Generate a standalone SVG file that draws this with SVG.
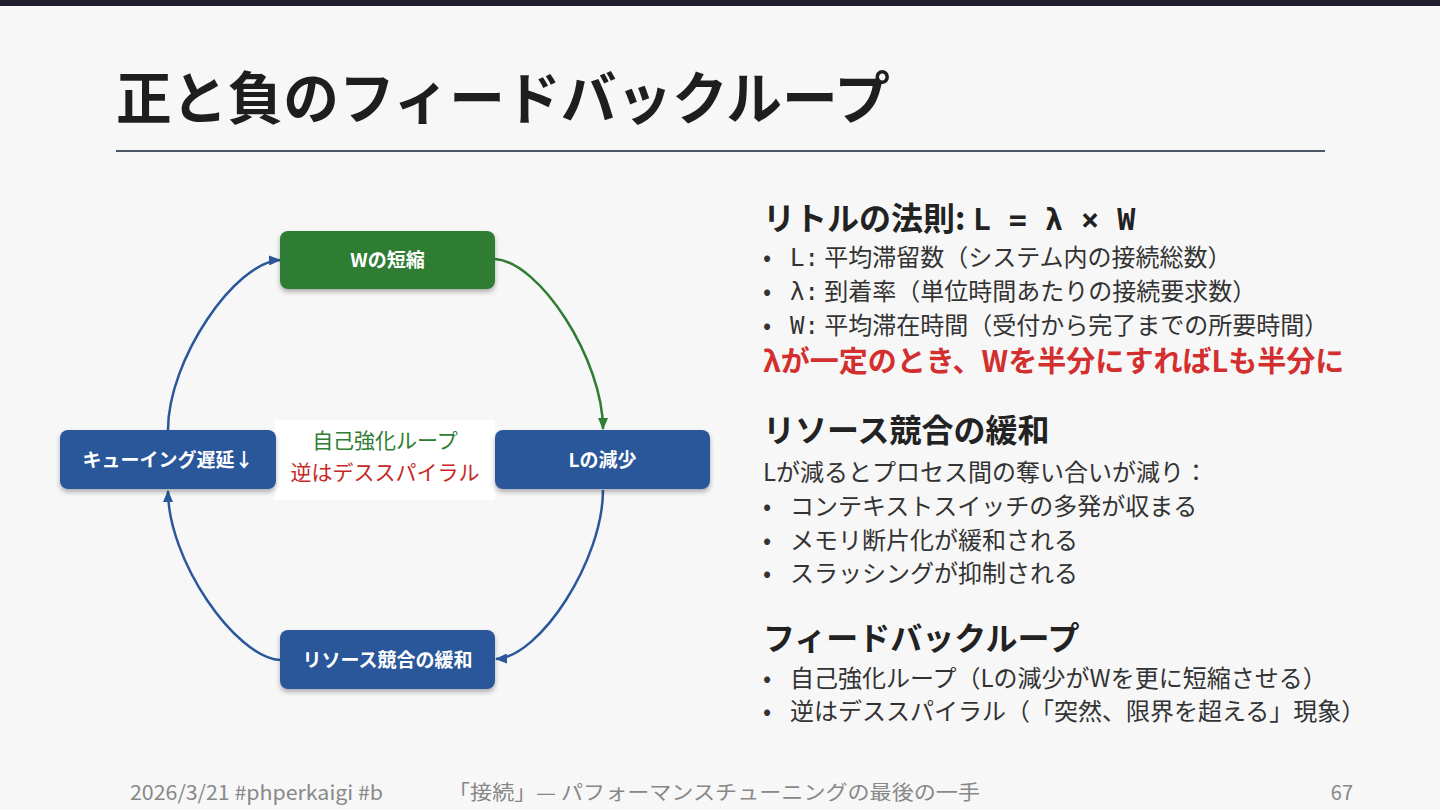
<svg xmlns="http://www.w3.org/2000/svg" width="1440" height="810" viewBox="0 0 1440 810">
<style>
.jp{font-family:"Noto Sans CJK JP","Noto Sans",sans-serif;text-spacing-trim:space-all}
.mono{font-family:"DejaVu Sans Mono","Liberation Mono",monospace}
.title{font-size:57px;font-weight:700;fill:#1e1e1e}
.h2{font-size:32px;font-weight:700;fill:#222}
.body{font-size:24px;fill:#333}
.nodetext{font-size:19px;font-weight:700;fill:#fff;text-anchor:middle}
.foot{font-size:20px;fill:#888}
.blue{fill:#2b579a}
.green{fill:#2e7d32}
.cb{fill:none;stroke:#2b579a;stroke-width:2.5}
.cg{fill:none;stroke:#2e7d32;stroke-width:2.5}
</style>
<defs>
<filter id="sh" x="-10%" y="-20%" width="120%" height="150%">
<feDropShadow dx="0" dy="3" stdDeviation="2.5" flood-color="#000" flood-opacity="0.3"/>
</filter>
<marker id="ab" viewBox="0 0 12 10" refX="11" refY="5" markerWidth="12" markerHeight="10" markerUnits="userSpaceOnUse" orient="auto">
<path d="M0,0 L12,5 L0,10 Z" fill="#2b579a"/>
</marker>
<marker id="ag" viewBox="0 0 12 10" refX="11" refY="5" markerWidth="12" markerHeight="10" markerUnits="userSpaceOnUse" orient="auto">
<path d="M0,0 L12,5 L0,10 Z" fill="#2e7d32"/>
</marker>
</defs>
<rect x="0" y="0" width="1440" height="810" fill="#f7f7f7"/>
<rect x="0" y="0" width="1440" height="6" fill="#1e1e2e"/>
<text class="jp title" x="116" y="119" textLength="774" lengthAdjust="spacingAndGlyphs">正と負のフィードバックループ</text>
<rect x="116" y="150" width="1209" height="2" fill="#4a5568"/>

<g id="connectors">
<path class="cg" d="M495,259 C540,262 603,360 603,429" marker-end="url(#ag)"/>
<path class="cb" d="M603,490 C603,560 540,657 496,659" marker-end="url(#ab)"/>
<path class="cb" d="M280,660 C235,657 168,560 168,491" marker-end="url(#ab)"/>
<path class="cb" d="M168,430 C168,360 235,262 280,260" marker-end="url(#ab)"/>
</g>

<g id="center-label">
<rect x="275" y="420" width="220" height="80" fill="#ffffff"/>
<text class="jp" x="385" y="448" font-size="21" fill="#2e7d32" text-anchor="middle">自己強化ループ</text>
<text class="jp" x="385" y="480" font-size="21" fill="#c62828" text-anchor="middle">逆はデススパイラル</text>
</g>

<g id="node-w">
<rect class="green" x="280" y="231" width="215" height="58" rx="8" filter="url(#sh)"/>
<text class="jp nodetext" x="387.5" y="267">Wの短縮</text>
</g>
<g id="node-l">
<rect class="blue" x="495" y="430" width="215" height="59" rx="8" filter="url(#sh)"/>
<text class="jp nodetext" x="602.5" y="467">Lの減少</text>
</g>
<g id="node-resource">
<rect class="blue" x="280" y="630" width="215" height="59" rx="8" filter="url(#sh)"/>
<text class="jp nodetext" x="387.5" y="667">リソース競合の緩和</text>
</g>
<g id="node-queue">
<rect class="blue" x="60" y="430" width="216" height="59" rx="8" filter="url(#sh)"/>
<text class="jp nodetext" x="168" y="467">キューイング遅延↓</text>
</g>

<g id="right-text">
<text class="jp h2" x="763" y="230">リトルの法則: <tspan class="mono" font-size="30">L = λ × W</tspan></text>
<text class="jp body" x="763" y="266">•</text>
<text class="jp body" x="790" y="266"><tspan class="mono">L:</tspan> 平均滞留数（システム内の接続総数）</text>
<text class="jp body" x="763" y="300">•</text>
<text class="jp body" x="790" y="300"><tspan class="mono">λ:</tspan> 到着率（単位時間あたりの接続要求数）</text>
<text class="jp body" x="763" y="334">•</text>
<text class="jp body" x="790" y="334"><tspan class="mono">W:</tspan> 平均滞在時間（受付から完了までの所要時間）</text>
<text class="jp" x="763" y="372" font-size="29" font-weight="700" fill="#d32f2f">λが一定のとき、Wを半分にすればLも半分に</text>

<text class="jp h2" x="763" y="442">リソース競合の緩和</text>
<text class="jp body" x="763" y="481">Lが減るとプロセス間の奪い合いが減り：</text>
<text class="jp body" x="763" y="515">•</text>
<text class="jp body" x="790" y="515">コンテキストスイッチの多発が収まる</text>
<text class="jp body" x="763" y="549">•</text>
<text class="jp body" x="790" y="549">メモリ断片化が緩和される</text>
<text class="jp body" x="763" y="582">•</text>
<text class="jp body" x="790" y="582">スラッシングが抑制される</text>

<text class="jp h2" x="763" y="650">フィードバックループ</text>
<text class="jp body" x="763" y="687">•</text>
<text class="jp body" x="790" y="687">自己強化ループ（Lの減少がWを更に短縮させる）</text>
<text class="jp body" x="763" y="720">•</text>
<text class="jp body" x="790" y="720">逆はデススパイラル（「突然、限界を超える」現象）</text>
</g>

<g id="footer">
<text class="jp foot" x="130" y="800" textLength="253" lengthAdjust="spacingAndGlyphs">2026/3/21 #phperkaigi #b</text>
<text class="jp foot" x="448" y="800" textLength="532" lengthAdjust="spacingAndGlyphs">「接続」— パフォーマンスチューニングの最後の一手</text>
<text class="jp foot" x="1353" y="800" text-anchor="end">67</text>
</g>
</svg>
